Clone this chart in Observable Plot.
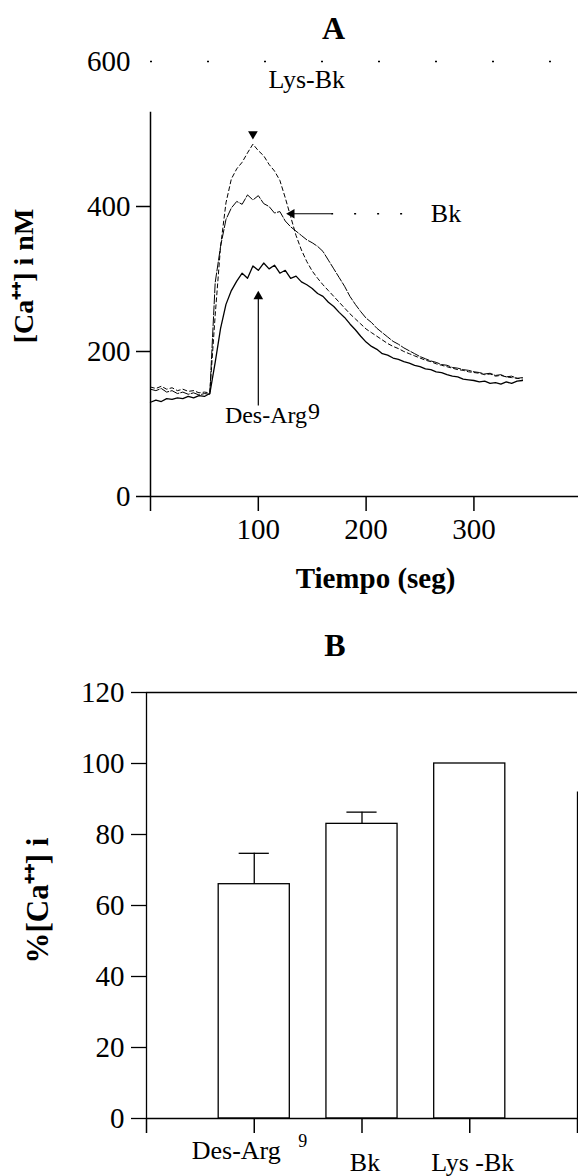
<!DOCTYPE html>
<html><head><meta charset="utf-8">
<script src="https://cdn.jsdelivr.net/npm/d3@7"></script>
<script src="https://cdn.jsdelivr.net/npm/@observablehq/plot@0.6"></script>
<style>
body{margin:0;background:#fff;}
#wrap{width:578px;}
#wrap svg{display:block;}
</style></head><body><div id="wrap"></div>
<script>
// ---------- Panel A data: [Ca++]i (nM) vs time (s) ----------
const times = [0,5,10,15,20,25,30,35,40,45,50,55,60,65,70,75,80,85,90,95,100,105,110,115,120,125,130,135,140,145,150,155,160,165,170,175,180,185,190,195,200,205,210,215,220,225,230,235,240,245,250,255,260,265,270,275,280,285,290,295,300,305,310,315,320,325,330,335,340,345];
const desArg = [130,133,131,135,134,136,135,138,136,139,138,142,185,232,265,284,297,308,301,318,312,322,314,319,308,312,301,304,296,292,287,280,276,268,262,254,247,238,230,221,213,207,203,197,195,191,189,186,184,181,179,176,175,172,171,168,166,165,162,161,160,158,159,156,157,155,158,156,159,160];
const bk = [148,146,149,144,146,142,144,141,143,140,142,141,295,345,382,398,407,403,416,409,415,404,400,391,393,380,372,366,360,354,350,345,338,326,314,302,290,276,265,255,246,240,232,226,220,214,210,205,201,197,193,190,187,185,182,181,178,177,175,174,172,171,169,170,167,168,165,166,163,164];
const lysBk = [151,149,152,148,150,146,148,145,146,143,144,143,250,345,405,438,452,461,474,486,477,470,458,449,436,412,386,360,340,324,311,301,292,284,276,268,260,252,245,238,231,226,221,216,211,207,204,200,197,194,191,188,186,183,181,179,177,175,174,172,171,170,168,169,166,167,165,164,163,162];
const yTicksA = [0, 200, 400];
const yTopA = [600];
const xTicksA = [0, 100, 200, 300];

// ---------- Panel B data: % [Ca++]i ----------
const categories = ["Des-Arg", "Bk", "Lys -Bk"];
const percent = [66, 83, 100];
const sem = [8.7, 3.3, 0];
const yTicksB = [0, 20, 40, 60, 80, 100, 120];

const serif = "'Liberation Serif','Times New Roman',Times,serif";

const series = [
  {name: "Des-Arg", values: desArg},
  {name: "Bk", values: bk},
  {name: "Lys-Bk", values: lysBk}
];
const traces = series.flatMap(s => times.map((t, i) => ({t, v: s.values[i], s: s.name})));
const bySeries = n => traces.filter(d => d.s === n);

const plotA = Plot.plot({
  width: 578, height: 600,
  marginLeft: 150, marginRight: 0, marginTop: 61, marginBottom: 104,
  x: {domain: [0, 397], axis: null},
  y: {domain: [0, 600], axis: null},
  style: {fontFamily: serif, fontSize: "29px", color: "black", background: "white", overflow: "visible"},
  marks: [
    Plot.ruleY(yTopA, {strokeDasharray: "2,55", strokeWidth: 1.5}),
    Plot.ruleY([0], {strokeWidth: 1.5}),
    Plot.ruleX([0], {y1: 0, y2: 530, strokeWidth: 1.5}),
    Plot.axisY({ticks: yTicksA, tickSize: 14, tickPadding: 6, label: null, strokeWidth: 1.5}),
    Plot.axisY({ticks: yTopA, tickSize: 0, tickPadding: 20, label: null}),
    Plot.axisX({ticks: xTicksA, tickSize: 15, tickPadding: 7, tickFormat: d => d === 0 ? "" : d, label: null, strokeWidth: 1.5}),
    Plot.line(bySeries("Lys-Bk"), {x: "t", y: "v", stroke: "black", strokeWidth: 1, strokeDasharray: "4,3"}),
    Plot.line(bySeries("Bk"), {x: "t", y: "v", stroke: "black", strokeWidth: 1, strokeDasharray: "9,2"}),
    Plot.line(bySeries("Des-Arg"), {x: "t", y: "v", stroke: "black", strokeWidth: 1.3}),
    // annotations
    Plot.dot([{t: 95, v: 500}], {x: "t", y: "v", symbol: "triangle", r: 3.6, rotate: 180, fill: "black", stroke: "none"}),
    Plot.text(["Lys-Bk"], {x: () => 145, y: () => 575, text: d => d, fontSize: 26}),
    Plot.ruleY([{v: 390}], {y: "v", x1: () => 129, x2: () => 168, strokeWidth: 1.2}),
    Plot.ruleY([{v: 390}], {y: "v", x1: () => 168, x2: () => 250, strokeWidth: 1.5, strokeDasharray: "2,21"}),
    Plot.dot([{t: 131, v: 390}], {x: "t", y: "v", symbol: "triangle", r: 3.6, rotate: -90, fill: "black", stroke: "none"}),
    Plot.text(["Bk"], {x: () => 260, y: () => 390, text: d => d, textAnchor: "start", fontSize: 26}),
    Plot.ruleX([{t: 100}], {x: "t", y1: () => 125, y2: () => 272, strokeWidth: 1.2}),
    Plot.dot([{t: 100, v: 276}], {x: "t", y: "v", symbol: "triangle", r: 3.6, fill: "black", stroke: "none"}),
    Plot.text(["Des-Arg"], {x: () => 69, y: () => 112, text: d => d, textAnchor: "start", fontSize: 24}),
    Plot.text(["9"], {x: () => 146, y: () => 118, text: d => d, textAnchor: "start", fontSize: 24}),
    // titles
    Plot.text(["A"], {frameAnchor: "top", text: d => d, textAnchor: "middle", lineAnchor: "middle", dx: -31, dy: -33, fontSize: 32, fontWeight: "bold"}),
    Plot.text(["Tiempo (seg)"], {frameAnchor: "bottom", text: d => d, textAnchor: "middle", lineAnchor: "middle", dx: 11, dy: 82, fontSize: 29, fontWeight: "bold"}),
    Plot.text(["[Ca\u207A\u207A] i nM"], {frameAnchor: "left", text: d => d, textAnchor: "middle", lineAnchor: "middle", rotate: -90, dx: -126, dy: -3, fontSize: 28, fontWeight: "bold"})
  ]
});

const bars = categories.map((c, i) => ({cat: c, pos: i + 1, value: percent[i], sem: sem[i]}));
const withErr = bars.filter(d => d.sem > 0);

const plotB = Plot.plot({
  width: 578, height: 576,
  marginLeft: 146, marginRight: 1, marginTop: 92, marginBottom: 58,
  x: {domain: [0, 4], axis: null},
  y: {domain: [0, 120], axis: null},
  style: {fontFamily: serif, fontSize: "29px", color: "black", background: "white", overflow: "visible"},
  marks: [
    Plot.rectY(bars, {x1: d => d.pos - 0.33, x2: d => d.pos + 0.33, y1: 0, y2: "value", fill: "white", stroke: "black", strokeWidth: 1.3}),
    Plot.ruleX(withErr, {x: "pos", y1: "value", y2: d => d.value + d.sem, strokeWidth: 1.3}),
    Plot.ruleY(withErr, {y: d => d.value + d.sem, x1: d => d.pos - 0.14, x2: d => d.pos + 0.14, strokeWidth: 1.3}),
    Plot.ruleY([0], {strokeWidth: 1.5}),
    Plot.ruleY([120], {strokeWidth: 1.3}),
    Plot.ruleX([0], {y1: 0, y2: 120, strokeWidth: 1.3}),
    Plot.ruleX([4], {y1: 0, y2: 92, strokeWidth: 1.3}),
    Plot.axisY({ticks: yTicksB, tickSize: 15, tickPadding: 7, label: null, strokeWidth: 1.3}),
    Plot.axisX({ticks: [0, 1, 2, 3, 4], tickSize: 15, tickFormat: () => "", label: null, strokeWidth: 1.5}),
    Plot.text(bars.slice(0, 1), {x: "pos", text: "cat", frameAnchor: "bottom", lineAnchor: "top", dx: -18, dy: 22, fontSize: 26}),
    Plot.text(bars.slice(0, 1), {x: "pos", text: () => "9", frameAnchor: "bottom", lineAnchor: "top", textAnchor: "start", dx: 44, dy: 16, fontSize: 18}),
    Plot.text(bars.slice(1), {x: "pos", text: "cat", frameAnchor: "bottom", lineAnchor: "top", dx: 3, dy: 34, fontSize: 26}),
    Plot.text(["B"], {frameAnchor: "top", text: d => d, textAnchor: "middle", lineAnchor: "middle", dx: -27, dy: -47, fontSize: 32, fontWeight: "bold"}),
    Plot.text(["%[Ca\u207A\u207A] i"], {frameAnchor: "left", text: d => d, textAnchor: "middle", lineAnchor: "middle", rotate: -90, dx: -108, dy: -5, fontSize: 31, fontWeight: "bold"})
  ]
});

document.getElementById("wrap").append(plotA, plotB);
</script>
</body></html>
